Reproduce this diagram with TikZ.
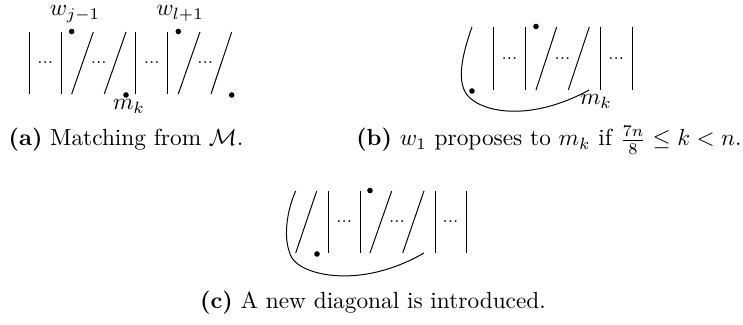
\documentclass[tikz,border=0pt]{standalone}
\usepackage{amsmath,amssymb}
\usepackage{tikz}
\usetikzlibrary{positioning}
\tikzstyle{strand}=[line width=0.42pt, color=black]
\tikzstyle{matchdot}=[circle, fill=black, inner sep=0pt, minimum size=2.4pt]
\tikzstyle{gapdots}=[inner sep=0pt, font=\scriptsize]
\tikzstyle{matchlabel}=[anchor=base, inner sep=0pt]
\tikzstyle{subcap}=[anchor=base, inner sep=0pt]

\begin{document}
\begin{tikzpicture}[x=0.429pt, y=-0.429pt]
        \useasboundingbox (0,0) rectangle (743,325);

        % (a) Matching
        \draw[strand] (29.3,32) -- (29.3,94);
        \draw[strand] (61,32) -- (61,94);
        \draw[strand] (71.7,94) -- (93.3,32);
        \draw[strand] (104.3,94) -- (126,32);
        \draw[strand] (135.7,32) -- (135.7,94);
        \draw[strand] (167.7,32) -- (167.7,94);
        \draw[strand] (178.3,94) -- (200,32);
        \draw[strand] (211,94) -- (231.7,32);

        \node[matchdot] (wa1) at (71.7,31.5) {};
        \node[matchdot] (ma1) at (126,95) {};
        \node[matchdot] (wa2) at (178.3,31.5) {};
        \node[matchdot] (ma2) at (231.7,95) {};

        \node[gapdots] (ga1) at (45.2,63) {...};
        \node[gapdots] (ga2) at (98.8,63) {...};
        \node[gapdots] (ga3) at (151.7,63) {...};
        \node[gapdots] (ga4) at (205.3,63) {...};

        \node[matchlabel] (lwj) at (75,16) {$w_{j-1}$};
        \node[matchlabel] (lwl) at (180,16) {$w_{l+1}$};
        \node[matchlabel] (lma) at (129,110) {$m_k$};

        \node[subcap] (capa) at (126,146) {\textbf{(a)} Matching from $\mathcal{M}$.};

        % (b) w_1 proposes to m_k
        \draw[strand] (493.3,27) -- (493.3,90);
        \draw[strand] (525.7,27) -- (525.7,90);
        \draw[strand] (536,90) -- (556.7,27);
        \draw[strand] (568.3,90) -- (589.3,27);
        \draw[strand] (600,27) -- (600,90);
        \draw[strand] (632.3,27) -- (632.3,90);
        \draw[strand] (472,27) .. controls (462,55) and (455,85) .. (470,98)
              .. controls (485,112) and (530,122) .. (589.3,90);

        \node[matchdot] (wb1) at (536,26.5) {};
        \node[matchdot] (wb0) at (472,91) {};

        \node[gapdots] (gb1) at (509.5,58.5) {...};
        \node[gapdots] (gb2) at (562.6,58.5) {...};
        \node[gapdots] (gb3) at (616.2,58.5) {...};

        \node[matchlabel] (lmb) at (596,105) {$m_k$};

        \node[subcap] (capb) at (549,146) {\textbf{(b)} $w_1$ proposes to $m_k$ if $\frac{7n}{8} \leq k < n$.};

        % (c) new diagonal
        \draw[strand] (295.7,253) -- (316.7,191);
        \draw[strand] (328.3,191) -- (328.3,253);
        \draw[strand] (360,191) -- (360,253);
        \draw[strand] (370,253) -- (391.7,191);
        \draw[strand] (402.7,253) -- (424,191);
        \draw[strand] (435,191) -- (435,253);
        \draw[strand] (466,191) -- (466,253);
        \draw[strand] (295.7,191) .. controls (287,210) and (282,240) .. (292,258)
              .. controls (302,275) and (360,290) .. (424,253);

        \node[matchdot] (wc1) at (370,190.5) {};
        \node[matchdot] (mc1) at (317,254) {};

        \node[gapdots] (gc1) at (344.2,222) {...};
        \node[gapdots] (gc2) at (397.1,222) {...};
        \node[gapdots] (gc3) at (450.5,222) {...};

        \node[subcap] (capc) at (373,309) {\textbf{(c)} A new diagonal is introduced.};
      \end{tikzpicture}
\end{document}
